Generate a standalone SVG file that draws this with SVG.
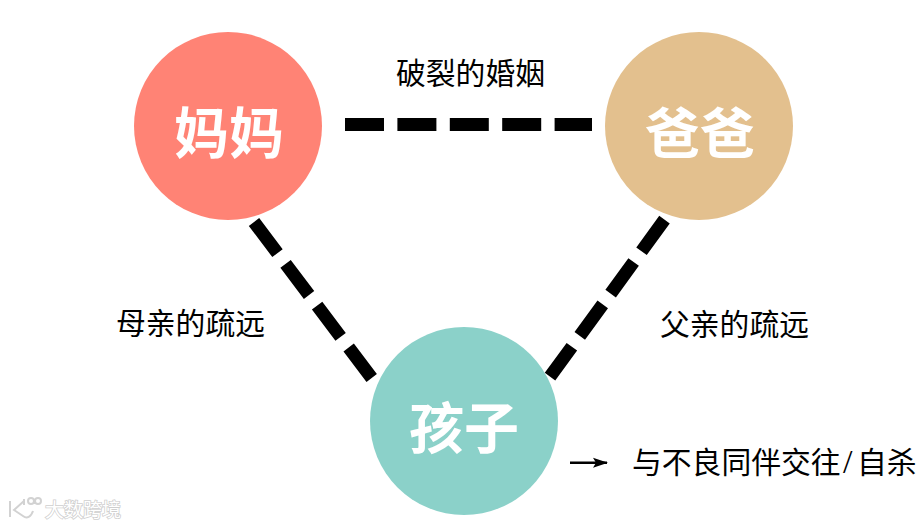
<svg xmlns="http://www.w3.org/2000/svg" width="924" height="526" viewBox="0 0 924 526">
<style>
.n{font-family:"Noto Sans CJK SC",sans-serif;font-size:55px;font-weight:700;fill:#fff;text-anchor:middle}
.t{font-family:"Liberation Serif","Noto Sans CJK SC",serif;font-size:29.8px;fill:#000}
.d{fill:none;stroke:#000;stroke-width:13;stroke-dasharray:39 13.4}
.w{font-family:"Noto Sans CJK SC",sans-serif;font-size:19px;font-weight:400;fill:#fff;stroke:#cfcfcf;stroke-width:1.6;paint-order:stroke}
.l{fill:none;stroke:#d2d2d2;stroke-width:2}
</style>
<defs><marker id="a" markerWidth="15" markerHeight="12" refX="14" refY="6" orient="auto" markerUnits="userSpaceOnUse"><path d="M0 1L15 6L0 11L3 6Z" fill="#000"/></marker></defs>
<rect width="924" height="526" fill="#fff"/>
<g id="connectors">
<path class="d" d="M345 124.500H592"/>
<path class="d" d="M254 222L371.700 378"/>
<path class="d" d="M664.500 219.700L550 376.700"/>
<path d="M570 462.700H607" fill="none" stroke="#000" stroke-width="2.400" marker-end="url(#a)"/>
</g>
<g id="mom"><circle cx="228" cy="126" r="94" fill="#ff8375"/><text class="n" x="229" y="153">妈妈</text></g>
<g id="dad"><circle cx="699" cy="126" r="94" fill="#e3c08e"/><text class="n" x="700" y="153">爸爸</text></g>
<g id="child"><circle cx="464" cy="421" r="94" fill="#8bd1c9"/><text class="n" x="464" y="448">孩子</text></g>
<g id="labels">
<text class="t" x="396" y="84">破裂的婚姻</text>
<text class="t" x="116" y="334">母亲的疏远</text>
<text class="t" x="660" y="335">父亲的疏远</text>
<text class="t" x="632" y="473">与不良同伴交往<tspan x="843" font-size="34">/</tspan><tspan x="857">自杀</tspan></text>
</g>
<g id="watermark">
<path class="l" d="M10 501V517M24 501L14 510L23 516C27 519 31 517 33 511"/>
<path class="l" d="M24 499V505M28 501a3 3 0 1 0 6 0a3 3 0 1 0-6 0M35 501a3 3 0 1 0 6 0a3 3 0 1 0-6 0"/>
<text class="w" x="45" y="517">大数跨境</text>
</g>
</svg>
